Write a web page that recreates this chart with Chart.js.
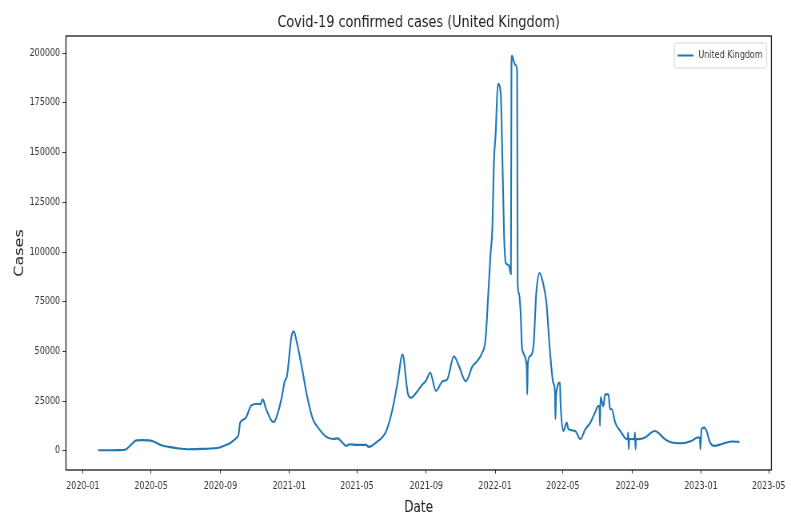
<!DOCTYPE html>
<html>
<head>
<meta charset="utf-8">
<title>Covid-19 confirmed cases (United Kingdom)</title>
<script src="https://cdn.jsdelivr.net/npm/chart.js@4/dist/chart.umd.min.js"></script>
<style>
  html, body { margin: 0; padding: 0; background: #fff; }
  #wrap { width: 791px; height: 522px; overflow: hidden; }
  /* the canvas is drawn wider and shown narrower, giving the condensed figure look */
  #chart { display: block; width: 791px; height: 522px; }
</style>
</head>
<body>
<div id="wrap"><canvas id="chart" width="989" height="522" style="width:791px;height:522px"></canvas></div>
<script>
// Daily confirmed cases, United Kingdom (7-day smoothed series with reporting glitches)
const dates = [
  '2020-01-28','2020-02-20','2020-03-05','2020-03-17','2020-03-26','2020-04-05','2020-04-15','2020-04-25',
  '2020-05-03','2020-05-18','2020-06-01','2020-06-16','2020-07-04','2020-08-01','2020-08-31','2020-09-10',
  '2020-09-18','2020-09-30','2020-10-03','2020-10-06','2020-10-15','2020-10-26','2020-11-07','2020-11-11',
  '2020-11-15','2020-11-21','2020-12-01','2020-12-05','2020-12-10','2020-12-18','2020-12-24','2020-12-28',
  '2021-01-05','2021-01-09','2021-01-14','2021-01-23','2021-02-01','2021-02-12','2021-02-21','2021-03-08',
  '2021-03-20','2021-03-28','2021-04-04','2021-04-12','2021-04-18','2021-05-01','2021-05-17','2021-05-22',
  '2021-06-04','2021-06-22','2021-07-03','2021-07-12','2021-07-21','2021-07-30','2021-08-05','2021-08-15',
  '2021-08-25','2021-08-31','2021-09-08','2021-09-18','2021-09-30','2021-10-08','2021-10-20','2021-10-29',
  '2021-11-10','2021-11-22','2021-11-30','2021-12-09','2021-12-15','2021-12-20','2021-12-24','2021-12-27',
  '2021-12-30','2022-01-02','2022-01-06','2022-01-11','2022-01-14','2022-01-17','2022-01-20','2022-01-25',
  '2022-01-29','2022-01-30','2022-01-31','2022-02-03','2022-02-06','2022-02-09','2022-02-10','2022-02-12',
  '2022-02-15','2022-02-18','2022-02-26','2022-02-27','2022-02-28','2022-03-04','2022-03-10','2022-03-15',
  '2022-03-21','2022-03-27','2022-04-02','2022-04-08','2022-04-14','2022-04-17','2022-04-18','2022-04-19',
  '2022-04-26','2022-04-27','2022-05-02','2022-05-08','2022-05-11','2022-05-23','2022-06-01','2022-06-10',
  '2022-06-19','2022-06-27','2022-07-03','2022-07-05','2022-07-06','2022-07-07','2022-07-12','2022-07-15',
  '2022-07-21','2022-07-24','2022-07-27','2022-08-02','2022-08-13','2022-08-22','2022-08-24','2022-08-25',
  '2022-08-26','2022-08-27','2022-09-03','2022-09-05','2022-09-06','2022-09-07','2022-09-08','2022-09-12',
  '2022-09-24','2022-10-11','2022-10-17','2022-10-29','2022-11-10','2022-11-27','2022-12-15','2022-12-26',
  '2022-12-30','2022-12-31','2023-01-02','2023-01-07','2023-01-12','2023-01-16','2023-01-25','2023-02-06',
  '2023-02-24','2023-03-10'
];
const cases = [
  300, 300, 350, 700, 3000, 5300, 5400, 5300,
  5000, 3000, 2000, 1350, 800, 1000, 1700, 2800,
  3850, 6700, 8000, 14200, 16200, 22900, 23700, 23500,
  25900, 21000, 15000, 14500, 17500, 25900, 35000, 37600,
  57600, 60100, 55100, 42600, 28400, 15900, 11700, 7000,
  6000, 6300, 4500, 2500, 3300, 3000, 3000, 2000,
  4200, 10000, 20900, 34300, 48400, 29300, 26700, 29500,
  33400, 35000, 39300, 30100, 35000, 35900, 47600, 42600,
  35000, 42600, 45100, 49300, 56000, 79400, 99400, 111000,
  146000, 159500, 184600, 179500, 146000, 107700, 94400, 93500,
  89000, 193000, 198700, 196000, 194000, 191000, 84400, 79400,
  71000, 51000, 42600, 28400, 44000, 47600, 52600, 79400,
  89400, 84400, 74400, 51000, 34300, 30000, 15900, 27600,
  34300, 24300, 10000, 14200, 10900, 10000, 5900, 10900,
  14200, 19200, 22500, 22500, 12500, 27000, 22500, 28400,
  28400, 20900, 20900, 14200, 9200, 5900, 6000, 9200,
  850, 6000, 5900, 6000, 9200, 850, 6000, 5900,
  6700, 10000, 9200, 5900, 4200, 3850, 5000, 6700,
  6700, 850, 10900, 11700, 9200, 5000, 2500, 3350,
  4700, 4500
];

const xTickLabels = ['2020-01','2020-05','2020-09','2021-01','2021-05','2021-09',
                     '2022-01','2022-05','2022-09','2023-01','2023-05'];
const yTickValues = [0, 25000, 50000, 75000, 100000, 125000, 150000, 175000, 200000];

const seriesName = 'United Kingdom';
const chartTitle = 'Covid-19 confirmed cases (United Kingdom)';

// dates are placed on a linear day axis counted from 2020-01-01
const DAY_MS = 86400000;
const EPOCH = Date.UTC(2020, 0, 1);
function dayIndex(iso) {
  const [y, m, d] = iso.split('-').map(Number);
  return (Date.UTC(y, m - 1, d || 1) - EPOCH) / DAY_MS;
}

const points = dates.map((d, i) => ({ x: dayIndex(d), y: cases[i] }));

// 5% data margins on both axes
const xs = points.map(p => p.x), ys = points.map(p => p.y);
const xLo = Math.min(...xs), xHi = Math.max(...xs);
const yLo = Math.min(...ys), yHi = Math.max(...ys);
const xPad = (xHi - xLo) * 0.05, yPad = (yHi - yLo) * 0.05;

const FONT = "'DejaVu Sans', 'Liberation Sans', sans-serif";
const LINE_COLOR = '#1f77b4';

// box drawn round the plotting area
const frame = {
  id: 'frame',
  afterDatasetsDraw(chart) {
    const { ctx, chartArea: a } = chart;
    ctx.save();
    ctx.strokeStyle = '#1a1a1a';
    ctx.lineWidth = 1.3;
    ctx.strokeRect(a.left, a.top, a.right - a.left, a.bottom - a.top);
    ctx.restore();
  }
};

// legend placed inside the upper right corner of the plotting area
const innerLegend = {
  id: 'innerLegend',
  afterDraw(chart) {
    const { ctx, chartArea: a } = chart;
    const ds = chart.data.datasets[0];
    ctx.save();
    ctx.font = '10px ' + FONT;
    const tw = ctx.measureText(ds.label).width;
    const w = 30 + tw + 5, h = 25;
    const x0 = a.right - 6 - w, y0 = a.top + 7;
    ctx.beginPath();
    ctx.roundRect(x0, y0, w, h, 3);
    ctx.fillStyle = 'rgba(255,255,255,0.85)';
    ctx.fill();
    ctx.strokeStyle = '#d6d6d6';
    ctx.lineWidth = 1;
    ctx.stroke();
    const my = y0 + h / 2;
    ctx.beginPath();
    ctx.moveTo(x0 + 4, my);
    ctx.lineTo(x0 + 24, my);
    ctx.strokeStyle = ds.borderColor;
    ctx.lineWidth = 2;
    ctx.stroke();
    ctx.fillStyle = '#333';
    ctx.textAlign = 'left';
    ctx.textBaseline = 'middle';
    ctx.fillText(ds.label, x0 + 30, my);
    ctx.restore();
  }
};

new Chart(document.getElementById('chart'), {
  type: 'line',
  data: {
    datasets: [{
      label: seriesName,
      data: points,
      borderColor: LINE_COLOR,
      backgroundColor: LINE_COLOR,
      borderWidth: 2.1,
      pointRadius: 0,
      cubicInterpolationMode: 'monotone',
      fill: false
    }]
  },
  options: {
    responsive: false,
    animation: false,
    devicePixelRatio: 1,
    layout: { padding: { left: 0, right: 20, top: 0, bottom: 0 } },
    plugins: {
      legend: { display: false },
      tooltip: { enabled: false },
      title: {
        display: true,
        text: chartTitle,
        fullSize: false,
        color: '#222',
        font: { family: FONT, size: 16, weight: 'normal' },
        padding: { top: 13, bottom: 3.8 }
      }
    },
    scales: {
      x: {
        type: 'linear',
        min: xLo - xPad,
        max: xHi + xPad,
        afterFit(scale) { scale.height = 52; },
        afterBuildTicks(scale) {
          scale.ticks = xTickLabels.map(l => ({ value: dayIndex(l) }));
        },
        ticks: {
          autoSkip: false,
          maxRotation: 0,
          padding: 7,
          color: '#333',
          font: { family: FONT, size: 10 },
          callback: (v, i) => xTickLabels[i]
        },
        grid: { drawOnChartArea: false, drawTicks: true, tickLength: 3.5, color: '#333' },
        border: { display: false },
        title: {
          display: true,
          text: 'Date',
          color: '#222',
          font: { family: FONT, size: 15 },
          padding: { top: 0, bottom: 5 }
        }
      },
      y: {
        type: 'linear',
        min: yLo - yPad,
        max: yHi + yPad,
        afterFit(scale) { scale.width = 82.5; },
        afterBuildTicks(scale) {
          scale.ticks = yTickValues.map(v => ({ value: v }));
        },
        ticks: {
          padding: 3,
          color: '#333',
          font: { family: FONT, size: 10 },
          callback: v => String(v)
        },
        grid: { drawOnChartArea: false, drawTicks: true, tickLength: 4.4, color: '#333' },
        border: { display: false },
        title: {
          display: true,
          text: 'Cases',
          color: '#222',
          font: { family: FONT, size: 16 },
          padding: { top: 15, bottom: 0 }
        }
      }
    }
  },
  plugins: [frame, innerLegend]
});
</script>
</body>
</html>
